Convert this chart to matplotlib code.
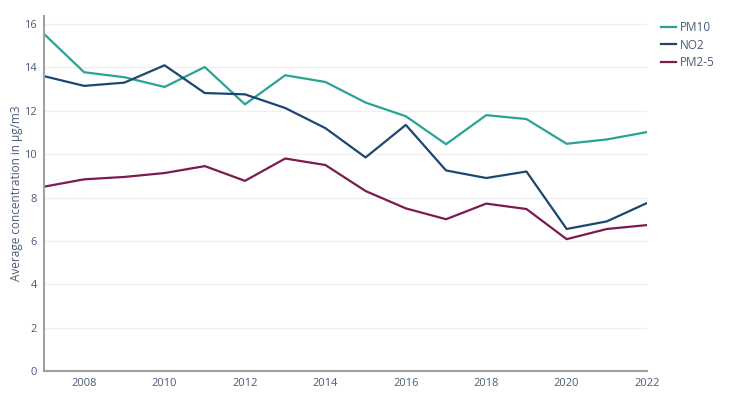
import matplotlib.pyplot as plt

years = list(range(2007, 2023))
pm10 = [15.55, 13.78, 13.55, 13.1, 14.02, 12.3, 13.64, 13.33, 12.38, 11.75, 10.46, 11.8, 11.62, 10.48, 10.68, 11.02]
no2 = [13.6, 13.15, 13.3, 14.1, 12.82, 12.76, 12.13, 11.2, 9.85, 11.35, 9.25, 8.9, 9.2, 6.55, 6.9, 7.75]
pm25 = [8.5, 8.84, 8.95, 9.13, 9.45, 8.77, 9.8, 9.5, 8.3, 7.5, 7.0, 7.72, 7.47, 6.08, 6.55, 6.73]

series = [("PM10", pm10, "#2aa395"), ("NO2", no2, "#1d4670"), ("PM2-5", pm25, "#7d1a4f")]

plt.rcParams['font.family'] = ['Open Sans', 'DejaVu Sans']
text_col = "#4a5a78"

fig = plt.figure(figsize=(7.32, 4.07), dpi=100)
ax = fig.add_axes([0.060, 0.0885, 0.824, 0.872])

for name, vals, col in series:
    ax.plot(years, vals, color=col, lw=1.6, label=name)

ax.set_xlim(2007, 2022)
ax.set_ylim(0, 16.37)
ax.set_xticks(range(2008, 2023, 2))
ax.set_yticks(range(0, 17, 2))
ax.grid(axis='y', color="#f0f0f0", lw=1)
ax.set_axisbelow(True)
for s in ['top', 'right']:
    ax.spines[s].set_visible(False)
for s in ['left', 'bottom']:
    ax.spines[s].set_color("#a0a0a0")
    ax.spines[s].set_linewidth(1.5)
ax.tick_params(length=0, labelsize=8, colors=text_col, pad=5)
ax.set_ylabel("Average concentration in μg/m3", fontsize=8.5, color=text_col, labelpad=1)

leg = ax.legend(loc='upper left', bbox_to_anchor=(1.015, 1.0), frameon=False,
                fontsize=8.5, handlelength=1.3, handletextpad=0.3, labelspacing=0.4,
                borderaxespad=0)
for t in leg.get_texts():
    t.set_color(text_col)

fig.savefig("out.png", dpi=100)
